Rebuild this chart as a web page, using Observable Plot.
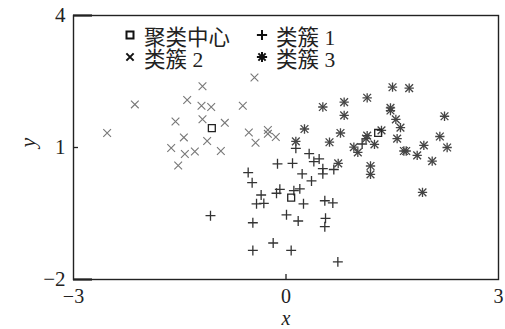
<!DOCTYPE html>
<html><head><meta charset="utf-8">
<script src="https://cdn.jsdelivr.net/npm/d3@7"></script>
<script src="https://cdn.jsdelivr.net/npm/@observablehq/plot@0.6"></script>
<style>
body{margin:0;background:#fff;}
#wrap{position:relative;width:505px;height:329px;font-family:"Liberation Serif","Times New Roman","DejaVu Serif","Noto Sans CJK SC",serif;}
#wrap svg text{font-family:"Liberation Serif","Times New Roman","DejaVu Serif",serif !important;}
#legend{position:absolute;left:0;top:0;font-size:21.5px;color:#222;}
.item{position:absolute;display:flex;align-items:center;white-space:nowrap;height:22px;}
.item svg{margin-right:5px;}
</style></head>
<body><div id="wrap"></div>
<script>
// cluster 2 (×)
const c2x = [-2.134,-2.525,-1.179,-1.395,-1.193,-1.056,-1.56,-1.179,-0.864,-0.61,-0.445,-1.442,-1.113,-1.621,-1.428,-1.287,-1.522,-0.92,-0.525,-0.43,-0.256,-0.256,-0.144];
const c2y = [1.98,1.33,2.39,2.08,1.95,1.92,1.59,1.64,1.56,1.95,2.59,1.23,1.15,0.99,0.85,0.91,0.59,0.92,1.34,1.11,1.40,1.31,1.24];
// cluster 1 (+)
const c1x = [0.139,0.327,0.092,-0.12,0.393,0.468,0.52,0.675,0.52,0.228,0.36,-0.534,-0.478,-0.351,-0.416,-0.313,-0.134,-0.087,0.111,0.195,0.247,0.548,0.661,0.007,0.172,0.558,0.548,-0.468,-1.066,-0.181,-0.468,0.073,0.732,1.075];
const c1y = [0.98,0.86,0.64,0.63,0.68,0.74,0.52,0.50,0.40,0.40,0.24,0.43,0.20,-0.08,-0.28,-0.27,-0.04,0.05,0.02,0.06,-0.28,-0.21,-0.26,-0.53,-0.67,-0.61,-0.80,-0.71,-0.55,-1.17,-1.34,-1.34,-1.60,1.08];
// cluster 3 (✱)
const c3x = [0.52,0.821,0.821,1.146,1.504,1.739,1.475,1.475,1.551,1.616,1.348,1.146,1.13,1.249,1.569,1.664,1.697,1.852,1.946,2.064,2.172,2.238,2.275,1.927,1.193,1.193,0.958,1.014,0.769,0.614,0.261,0.737,0.139];
const c3y = [1.92,2.03,1.73,2.13,2.37,2.35,1.84,1.90,1.64,1.45,1.39,1.27,1.20,1.07,1.20,0.92,0.92,0.82,1.05,0.69,1.25,1.71,1.00,-0.02,0.58,0.39,1.01,0.89,1.33,1.12,1.42,0.64,1.14];
// cluster centres (□)
const cenx = [-1.047,0.073,1.301];
const ceny = [1.44,-0.14,1.33];
const xTicks = [-3,0,3];
const yTicks = [4,1,-2];
const legendLabels = ["聚类中心","类簇 1","类簇 2","类簇 3"];

const zip = (xs, ys) => xs.map((x, i) => ({x, y: ys[i]}));
const d1 = zip(c1x, c1y), d2 = zip(c2x, c2y), d3d = zip(c3x, c3y), dc = zip(cenx, ceny);

const serif = "Liberation Serif, Times New Roman, DejaVu Serif, serif";
const fmt = d => String(d).replace("-", "\u2212");
const chart = Plot.plot({
  width: 505, height: 329,
  marginLeft: 73, marginRight: 7, marginTop: 15, marginBottom: 50,
  style: {fontFamily: serif, fontSize: "21px", color: "#222", background: "#fff", overflow: "visible"},
  x: {domain: [-3, 3]},
  y: {domain: [-2, 4]},
  marks: [
    Plot.frame({stroke: "#222", strokeWidth: 1.4}),
    Plot.axisX({ticks: xTicks, tickFormat: fmt, tickSize: 0, tickPadding: 9, fontFamily: serif, fontSize: 20, label: null}),
    Plot.axisX({ticks: [0], tickSize: -5, text: null, strokeWidth: 1.3, label: null}),
    Plot.axisY({ticks: yTicks, tickFormat: fmt, tickSize: 0, tickPadding: 8, fontFamily: serif, fontSize: 21, label: null}),
    Plot.axisY({ticks: [1], tickSize: -5, text: null, strokeWidth: 1.3, label: null}),
    Plot.axisY({ticks: [4, -2], tickSize: -19, text: null, strokeWidth: 2.2, label: null}),
    Plot.text(["x"], {frameAnchor: "bottom", dy: 45, fontStyle: "italic", fontSize: 20, fontFamily: serif}),
    Plot.text(["y"], {frameAnchor: "left", dx: -46, rotate: -90, fontStyle: "italic", fontSize: 22, fontFamily: serif}),
    Plot.dot(d2, {x: "x", y: "y", symbol: "times", r: 3.6, stroke: "#777", strokeWidth: 1.1}),
    Plot.dot(d1, {x: "x", y: "y", symbol: "plus", r: 3.3, stroke: "#333", strokeWidth: 1.3}),
    Plot.dot(d3d, {x: "x", y: "y", symbol: "plus", r: 3.1, stroke: "#444", strokeWidth: 1.3}),
    Plot.dot(d3d, {x: "x", y: "y", symbol: "times", r: 3.6, stroke: "#444", strokeWidth: 1.3}),
    Plot.dot(dc, {x: "x", y: "y", symbol: "square", r: 3.9, fill: "none", stroke: "#222", strokeWidth: 1.3})
  ]
});
const wrap = document.getElementById("wrap");
wrap.appendChild(chart);

// legend (HTML overlay)
const legend = document.createElement("div");
legend.id = "legend";
const pos = [[121, 24], [253, 24], [121, 46], [253, 46]];
const paths = [
  [d3.symbol(d3.symbolSquare, 49)()],
  [d3.symbol(d3.symbolPlus, 36)()],
  [d3.symbol(d3.symbolTimes, 36)()],
  [d3.symbol(d3.symbolPlus, 36)(), d3.symbol(d3.symbolTimes, 36)()]
];
legendLabels.forEach((lab, i) => {
  const it = document.createElement("div");
  it.className = "item";
  it.style.left = pos[i][0] + "px";
  it.style.top = pos[i][1] + "px";
  const ps = paths[i].map(p => `<path d="${p}" fill="none" stroke="#111" stroke-width="2"/>`).join("");
  it.innerHTML = `<svg width="18" height="18" viewBox="-9 -9 18 18">${ps}</svg><span>${lab}</span>`;
  legend.appendChild(it);
});
wrap.appendChild(legend);
</script></body></html>
